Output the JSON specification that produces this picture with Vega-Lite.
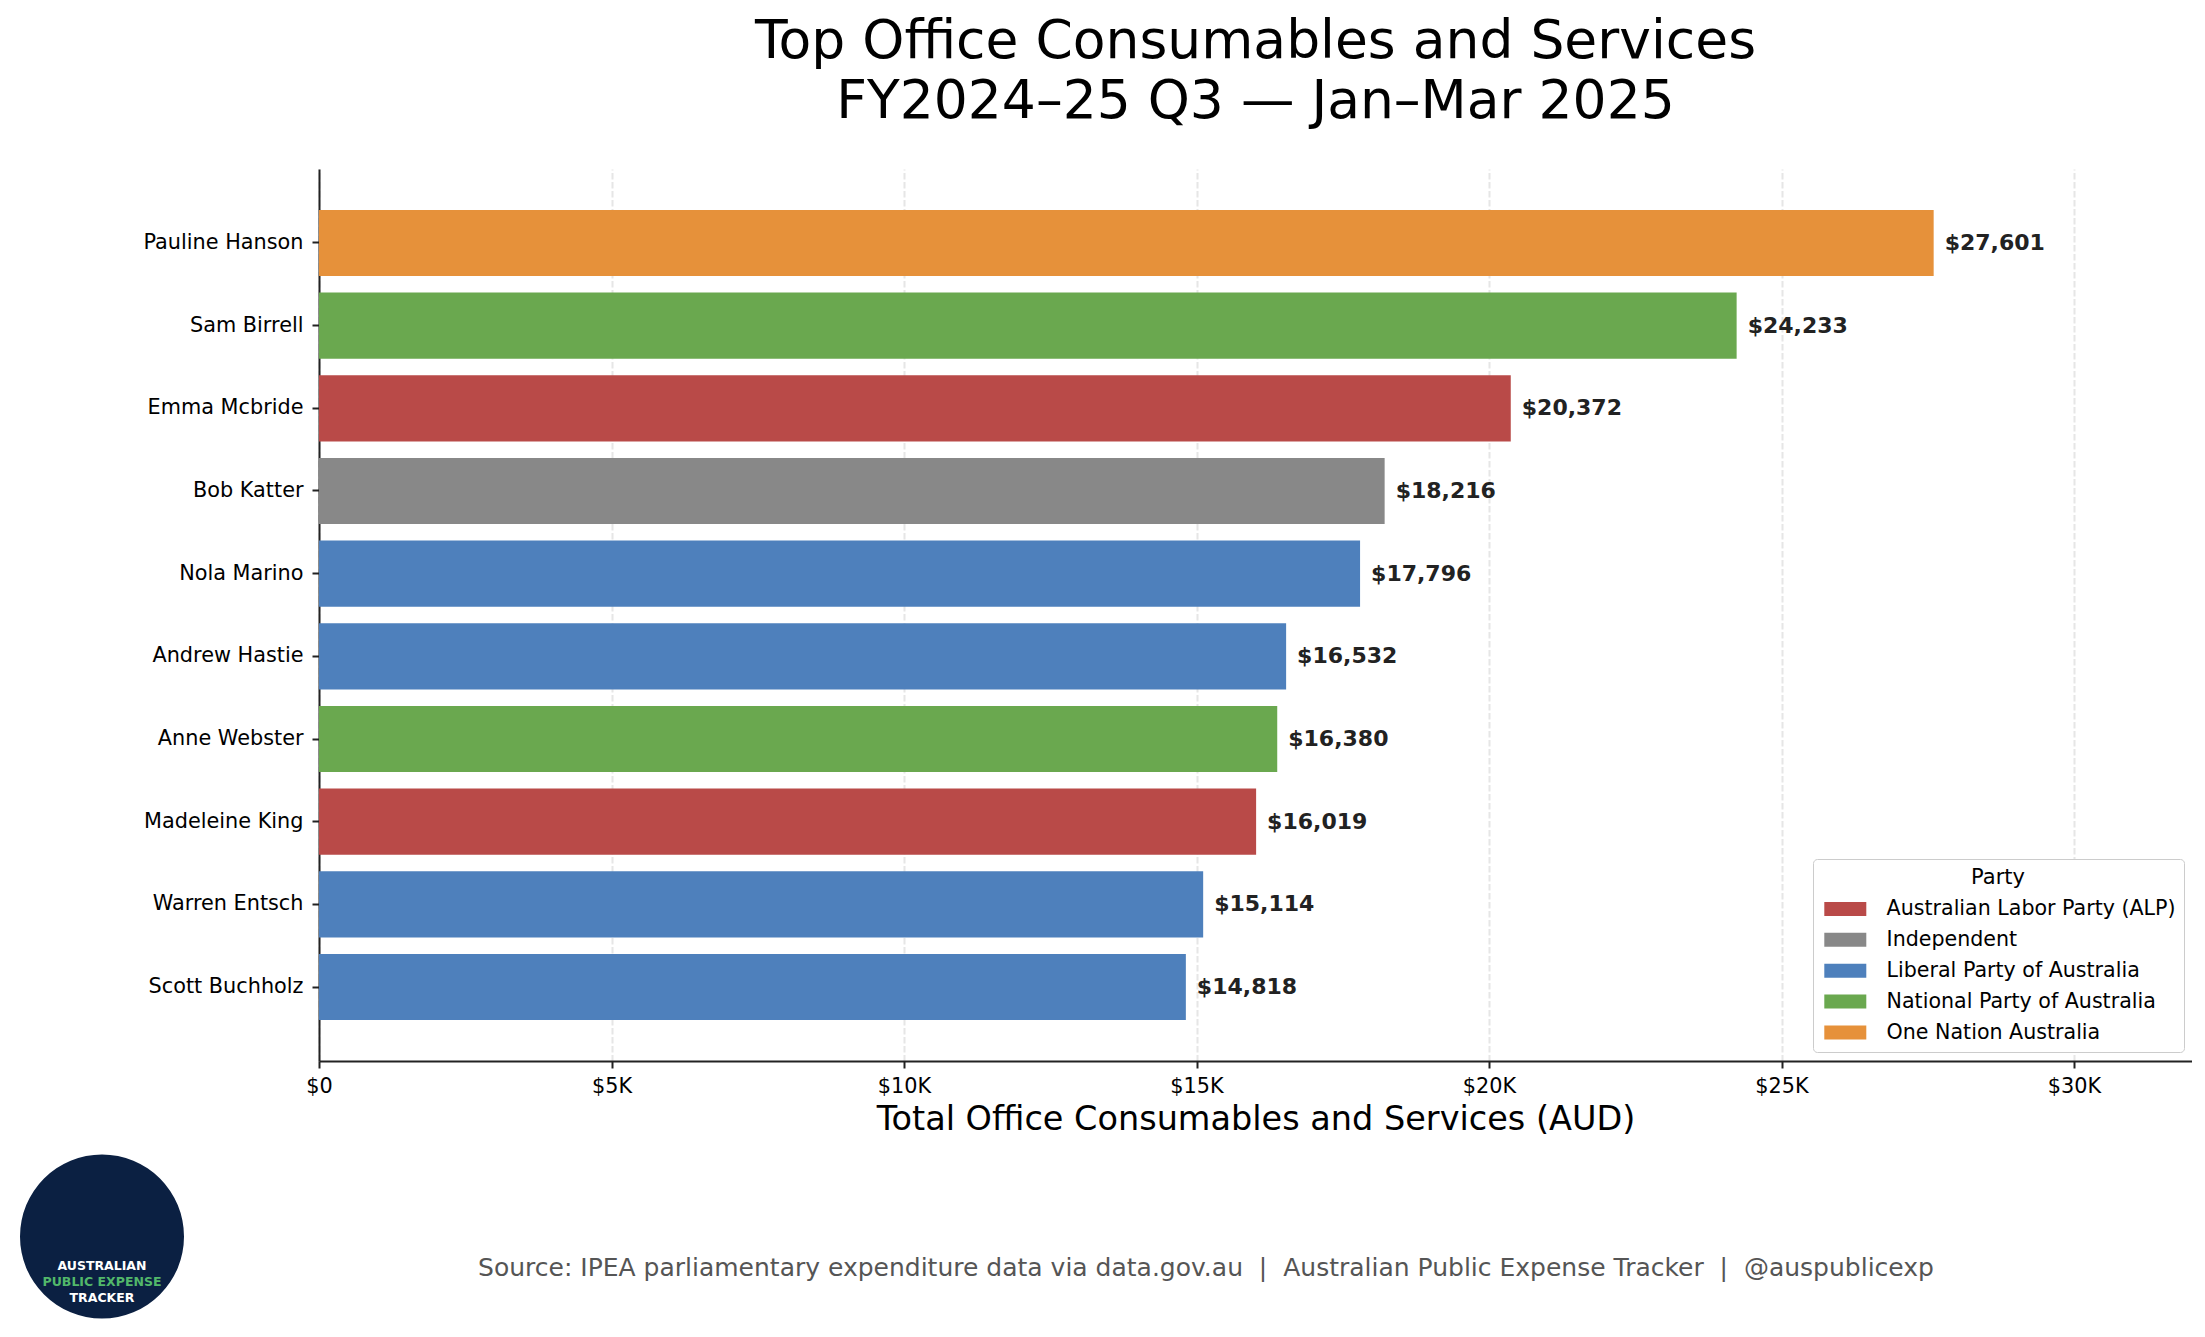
{
  "$schema": "https://vega.github.io/schema/vega-lite/v6.json",
  "padding": {"left": 20, "top": 14, "right": 0, "bottom": 20},
  "spacing": -164,
  "config": {
    "font": "DejaVu Sans",
    "view": {"stroke": null},
    "axis": {"labelFont": "DejaVu Sans", "titleFont": "DejaVu Sans"}
  },
  "datasets": {
    "spend": [
      {"name": "Pauline Hanson", "party": "One Nation Australia", "value": 27601},
      {"name": "Sam Birrell", "party": "National Party of Australia", "value": 24233},
      {"name": "Emma Mcbride", "party": "Australian Labor Party (ALP)", "value": 20372},
      {"name": "Bob Katter", "party": "Independent", "value": 18216},
      {"name": "Nola Marino", "party": "Liberal Party of Australia", "value": 17796},
      {"name": "Andrew Hastie", "party": "Liberal Party of Australia", "value": 16532},
      {"name": "Anne Webster", "party": "National Party of Australia", "value": 16380},
      {"name": "Madeleine King", "party": "Australian Labor Party (ALP)", "value": 16019},
      {"name": "Warren Entsch", "party": "Liberal Party of Australia", "value": 15114},
      {"name": "Scott Buchholz", "party": "Liberal Party of Australia", "value": 14818}
    ],
    "footer": [
      {"text": "Source: IPEA parliamentary expenditure data via data.gov.au \u00a0|\u00a0 Australian Public Expense Tracker \u00a0|\u00a0 @auspublicexp"}
    ],
    "logo": [
      {"l1": "AUSTRALIAN", "l2": "PUBLIC EXPENSE", "l3": "TRACKER"}
    ],
    "empty": []
  },
  "hconcat": [
    {
      "spacing": 20,
      "vconcat": [
        {
          "width": 164,
          "height": 965,
          "data": {"name": "empty"},
          "mark": {"type": "point"},
          "encoding": {}
        },
        {
          "width": 164,
          "height": 165,
          "data": {"name": "logo"},
          "layer": [
            {
              "mark": {"type": "point", "shape": "circle", "filled": true, "size": 26896, "color": "#0b2042", "opacity": 1},
              "encoding": {}
            },
            {
              "mark": {"type": "text", "fontSize": 12.5, "fontWeight": "bold", "color": "#ffffff", "baseline": "middle", "dy": 29},
              "encoding": {"text": {"field": "l1", "type": "nominal"}}
            },
            {
              "mark": {"type": "text", "fontSize": 12.5, "fontWeight": "bold", "color": "#52b86a", "baseline": "middle", "dy": 45},
              "encoding": {"text": {"field": "l2", "type": "nominal"}}
            },
            {
              "mark": {"type": "text", "fontSize": 12.5, "fontWeight": "bold", "color": "#ffffff", "baseline": "middle", "dy": 61},
              "encoding": {"text": {"field": "l3", "type": "nominal"}}
            }
          ]
        }
      ]
    },
    {
      "spacing": 5,
      "vconcat": [
        {
          "width": 1873,
          "height": 892,
          "title": {
            "text": ["Top Office Consumables and Services", "FY2024–25 Q3 — Jan–Mar 2025"],
            "fontSize": 53.5,
            "lineHeight": 60,
            "fontWeight": "normal",
            "color": "#000000",
            "anchor": "middle",
            "frame": "group",
            "offset": 40
          },
          "data": {"name": "spend"},
          "encoding": {
            "y": {
              "field": "name",
              "type": "nominal",
              "sort": null,
              "scale": {"paddingInner": 0.2, "paddingOuter": 0.495},
              "axis": {
                "title": null,
                "labelFontSize": 20.8,
                "labelColor": "#000000",
                "labelPadding": 9,
                "tickSize": 7,
                "tickWidth": 2,
                "tickColor": "#222222",
                "domainColor": "#222222",
                "domainWidth": 2,
                "grid": false,
                "minExtent": 299
              }
            },
            "x": {
              "field": "value",
              "type": "quantitative",
              "scale": {"domain": [0, 32017], "nice": false, "zero": true},
              "axis": {
                "title": "Total Office Consumables and Services (AUD)",
                "titleFontSize": 33.5,
                "titleFontWeight": "normal",
                "titleColor": "#000000",
                "titlePadding": 8,
                "values": [0, 5000, 10000, 15000, 20000, 25000, 30000],
                "labelExpr": "datum.value == 0 ? '$0' : '$' + (datum.value / 1000) + 'K'",
                "labelFontSize": 20.8,
                "labelColor": "#000000",
                "labelPadding": 8,
                "labelFlush": false,
                "labelOverlap": false,
                "tickSize": 7,
                "tickWidth": 2,
                "tickColor": "#222222",
                "domainColor": "#222222",
                "domainWidth": 2,
                "grid": true,
                "gridColor": "#e6e6e6",
                "gridWidth": 2,
                "gridDash": [6.5, 2.5]
              }
            }
          },
          "layer": [
            {
              "mark": {"type": "bar"},
              "encoding": {
                "color": {
                  "field": "party",
                  "type": "nominal",
                  "scale": {
                    "domain": ["Australian Labor Party (ALP)", "Independent", "Liberal Party of Australia", "National Party of Australia", "One Nation Australia"],
                    "range": ["#b94a48", "#888888", "#4e80bc", "#6aa84f", "#e6913a"]
                  },
                  "legend": {
                    "title": "Party",
                    "orient": "none",
                    "legendX": 1793,
                    "legendY": 690,
                    "direction": "vertical",
                    "titleAnchor": "middle",
                    "titleFontSize": 21,
                    "titleFontWeight": "normal",
                    "titleColor": "#000000",
                    "titlePadding": 10.6,
                    "labelFontSize": 20.6,
                    "labelColor": "#000000",
                    "labelLimit": 500,
                    "labelOffset": 45,
                    "symbolType": "M-1,-1H5V1H-1Z",
                    "symbolSize": 196,
                    "symbolStrokeWidth": 0,
                    "symbolOpacity": 1,
                    "rowPadding": 9.9,
                    "padding": 8,
                    "strokeColor": "#cccccc",
                    "fillColor": "#ffffff",
                    "cornerRadius": 4
                  }
                }
              }
            },
            {
              "mark": {
                "type": "text",
                "align": "left",
                "baseline": "middle",
                "dx": 11,
                "fontSize": 22,
                "fontWeight": "bold",
                "color": "#222222"
              },
              "encoding": {
                "text": {"field": "value", "type": "quantitative", "format": "$,.0f"}
              }
            }
          ]
        },
        {
          "width": 1774,
          "height": 165,
          "data": {"name": "footer"},
          "mark": {"type": "text", "fontSize": 25, "color": "#555555", "baseline": "alphabetic", "dy": 51.5},
          "encoding": {"text": {"field": "text", "type": "nominal"}}
        }
      ]
    }
  ]
}
